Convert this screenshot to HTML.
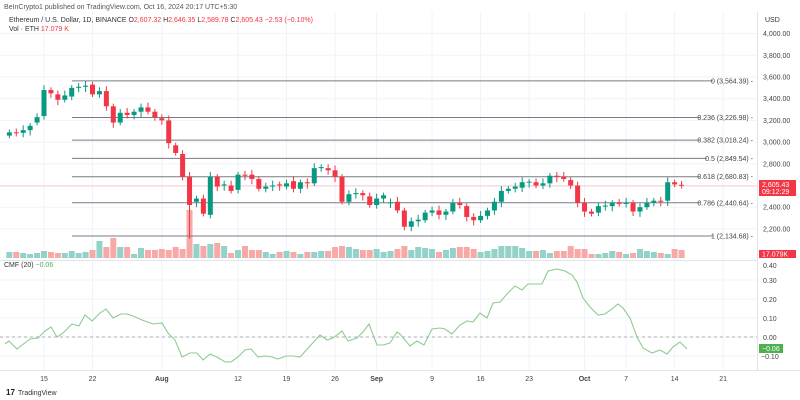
<!DOCTYPE html>
<html><head><meta charset="utf-8"><style>
html,body{margin:0;padding:0;background:#fff;}
svg{display:block;font-family:"Liberation Sans",sans-serif;}
</style></head><body>
<svg id="s" width="800" height="400" viewBox="0 0 800 400" xmlns="http://www.w3.org/2000/svg">
<rect width="800" height="400" fill="#fff"/>
<g id="grid" stroke="#f0f3fa" stroke-width="1"></g>
<line x1="0" y1="260.5" x2="757" y2="260.5" stroke="#e0e3eb"/>
<line x1="0" y1="370.5" x2="800" y2="370.5" stroke="#e0e3eb"/>
<line x1="757.5" y1="12" x2="757.5" y2="370" stroke="#e0e3eb"/>
<text x="4" y="9" font-size="7" fill="#555">BeInCrypto1 published on TradingView.com, Oct 16, 2024 20:17 UTC+5:30</text>
<text x="9" y="22" font-size="7" fill="#333">Ethereum / U.S. Dollar, 1D, BINANCE <tspan fill="#333">O</tspan><tspan fill="#f23645">2,607.32</tspan> <tspan fill="#333">H</tspan><tspan fill="#f23645">2,646.35</tspan> <tspan fill="#333">L</tspan><tspan fill="#f23645">2,589.78</tspan> <tspan fill="#333">C</tspan><tspan fill="#f23645">2,605.43  −2.53 (−0.10%)</tspan></text>
<text x="9" y="31" font-size="7" fill="#333">Vol · ETH <tspan fill="#f23645">17.079 K</tspan></text>
<text x="765" y="22" font-size="7" fill="#333">USD</text>
<g id="vol"></g>
<g id="fib"></g>
<line x1="0" y1="186" x2="757" y2="186" stroke="#f7c1c5" stroke-width="0.8"/>
<g id="candles"></g>
<g id="paxis" font-size="7" fill="#444"></g>
<rect x="759" y="180" width="37" height="16" fill="#f23645"/>
<text x="762" y="187" font-size="7" fill="#fff">2,605.43</text>
<text x="762" y="194" font-size="7" fill="#fff">09:12:29</text>
<rect x="759" y="250" width="37" height="8" fill="#f23645"/>
<text x="762" y="256.5" font-size="7" fill="#fff">17.079K</text>
<text x="4" y="267" font-size="7" fill="#333">CMF (20) <tspan fill="#4caf50">−0.06</tspan></text>
<line x1="0" y1="337" x2="757" y2="337" stroke="#999" stroke-dasharray="3,3" stroke-width="0.8"/>
<g font-size="7" fill="#444">
<text x="763" y="283">0.30</text><text x="763" y="302">0.20</text><text x="763" y="321">0.10</text><text x="763" y="340">0.00</text><text x="761" y="359">−0.10</text>
</g>
<polyline id="cmf" fill="none" stroke="#8fcb8f" stroke-width="1.1"/>
<rect x="759" y="344" width="24" height="9" fill="#4caf50"/>
<text x="762" y="351" font-size="7" fill="#fff">−0.06</text>
<g id="daxis" font-size="7" fill="#444" text-anchor="middle"></g>
<text x="6" y="395" font-size="8" font-weight="bold" fill="#222">17</text>
<text x="18" y="395" font-size="7" fill="#333">TradingView</text>
</svg>
<script>
var NS="http://www.w3.org/2000/svg";
function el(p,t,a,txt){var e=document.createElementNS(NS,t);for(var k in a)e.setAttribute(k,a[k]);if(txt!==undefined)e.textContent=txt;document.getElementById(p).appendChild(e);return e;}
function py(p){return 77+(3600-p)*0.1085;}
function dx(d){return 44+d*6.93;}
var dates=[[15,0],[22,7],["Aug",17],[12,28],[19,35],[26,42],["Sep",48],[9,56],[16,63],[23,70],["Oct",78],[7,84],[14,91],[21,98]];
dates.forEach(function(d){var x=dx(d[1]);el("grid","line",{x1:x,y1:12,x2:x,y2:370});
 el("daxis","text",{x:x,y:381,"font-weight":(typeof d[0]=="string")?"bold":"normal"},d[0]);});
for(var p=2200;p<=4000;p+=200){var y=py(p);el("grid","line",{x1:0,y1:y,x2:757,y2:y});
 el("paxis","text",{x:763,y:y+2.5},p.toLocaleString("en-US")+".00");}
el("paxis","text",{x:763,y:268},"0.40");
[280,299,318,337,356].forEach(function(y){el("grid","line",{x1:0,y1:y,x2:757,y2:y});});
var fib=[["0 (3,564.39)",3564.39,716],["0.236 (3,226.98)",3226.98,703],["0.382 (3,018.24)",3018.24,703],["0.5 (2,849.54)",2849.54,710],["0.618 (2,680.83)",2680.83,703],["0.786 (2,440.64)",2440.64,703],["1 (2,134.68)",2134.68,716]];
fib.forEach(function(f){var y=py(f[1]);el("fib","line",{x1:72,y1:y,x2:f[2]-3,y2:y,stroke:"#787b86","stroke-width":1});
 el("fib","text",{x:753,y:y+2.5,"font-size":"7",fill:"#444","text-anchor":"end"},f[0]+" -");});
var oc=[[3060,3090],[3090,3085],[3085,3110],[3110,3150],[3180,3230],[3240,3480],[3480,3450],[3440,3390],[3390,3430],[3420,3500],[3500,3510],[3510,3520],[3530,3440],[3440,3470],[3470,3330],[3330,3180],[3180,3270],[3270,3250],[3250,3280],[3280,3320],[3320,3280],[3280,3230],[3220,3200],[3200,2990],[2970,2900],[2890,2680],[2680,2420],[2450,2480],[2480,2340],[2330,2680],[2680,2590],[2600,2610],[2600,2550],[2560,2700],[2700,2690],[2700,2660],[2660,2570],[2570,2590],[2590,2600],[2610,2600],[2590,2620],[2640,2570],[2570,2630],[2630,2620],[2620,2760],[2760,2770],[2760,2740],[2740,2680],[2680,2450],[2450,2520],[2520,2530],[2530,2510],[2500,2420],[2420,2480],[2480,2510],[2440,2445],[2450,2370],[2370,2220],[2220,2270],[2270,2285],[2280,2350],[2350,2370],[2370,2330],[2330,2360],[2360,2440],[2440,2420],[2410,2310],[2310,2280],[2280,2320],[2320,2370],[2370,2450],[2450,2550],[2550,2570],[2570,2590],[2580,2630],[2630,2635],[2630,2600],[2600,2620],[2620,2690],[2690,2680],[2680,2660],[2650,2600],[2600,2440],[2440,2360],[2360,2340],[2350,2410],[2410,2415],[2410,2440],[2440,2430],[2430,2440],[2440,2360],[2360,2400],[2400,2440],[2440,2460],[2460,2450],[2460,2630],[2630,2610],[2607,2605]];
var vols=[6,6,5,4,5,7,6,5,5,7,5,6,8,17,11,20,11,11,4,10,8,8,9,8,11,9,48,14,12,14,15,12,5,8,12,8,8,6,4,6,7,6,4,6,6,7,7,11,12,11,9,8,8,9,6,7,9,12,8,11,10,9,6,8,10,11,11,9,6,7,9,12,12,12,10,7,7,8,5,7,7,12,9,9,4,4,5,7,6,4,5,9,7,6,5,4,9,8,6];
oc.forEach(function(c,i){var d=i-5,x=dx(d),o=c[0],cl=c[1],up=cl>=o;
 var col=up?"#089981":"#f23645";var hi=Math.max(o,cl)+25+(i%3)*10,lo=Math.min(o,cl)-25-(i%4)*8;
 if(i==26)lo=2110;
 el("candles","line",{x1:x,y1:py(hi),x2:x,y2:py(lo),stroke:col,"stroke-width":1});
 var y1=py(Math.max(o,cl)),y2=py(Math.min(o,cl));
 el("candles","rect",{x:x-2.5,y:y1,width:5,height:Math.max(1,y2-y1),fill:col});
 var v=vols[i]||6;
 el("vol","rect",{x:x-3,y:258-v,width:6,height:v,fill:up?"#92d2c8":"#f7a9a7"});
});
var pts="5,344 9,341 17,349 30,339 38,338 45,331 51,327 57,337 63,333 72,324 79,326 85,315 92,321 100,313 106,309 113,318 121,314 127,314 133,316 142,320 153,324 162,323 168,333 175,340 182,357 190,353 197,353 203,360 210,354 217,357 225,362 231,362 238,357 245,350 251,349 258,357 265,356 272,357 278,359 286,356 293,356 300,357 310,346 320,335 327,340 333,338 342,331 348,341 357,338 363,332 369,324 377,345 383,345 390,343 397,332 400,334 410,346 417,341 424,345 432,329 440,328 445,329 452,334 460,325 467,321 473,322 480,313 487,318 493,303 500,302 507,294 515,286 522,290 528,284 535,284 542,284 548,271 557,269 565,271 572,275 577,282 583,298 590,307 598,315 605,314 612,309 618,304 623,308 630,318 637,337 643,348 652,353 660,350 667,354 673,347 680,342 687,349";
document.getElementById("cmf").setAttribute("points",pts);
</script>
</body></html>
